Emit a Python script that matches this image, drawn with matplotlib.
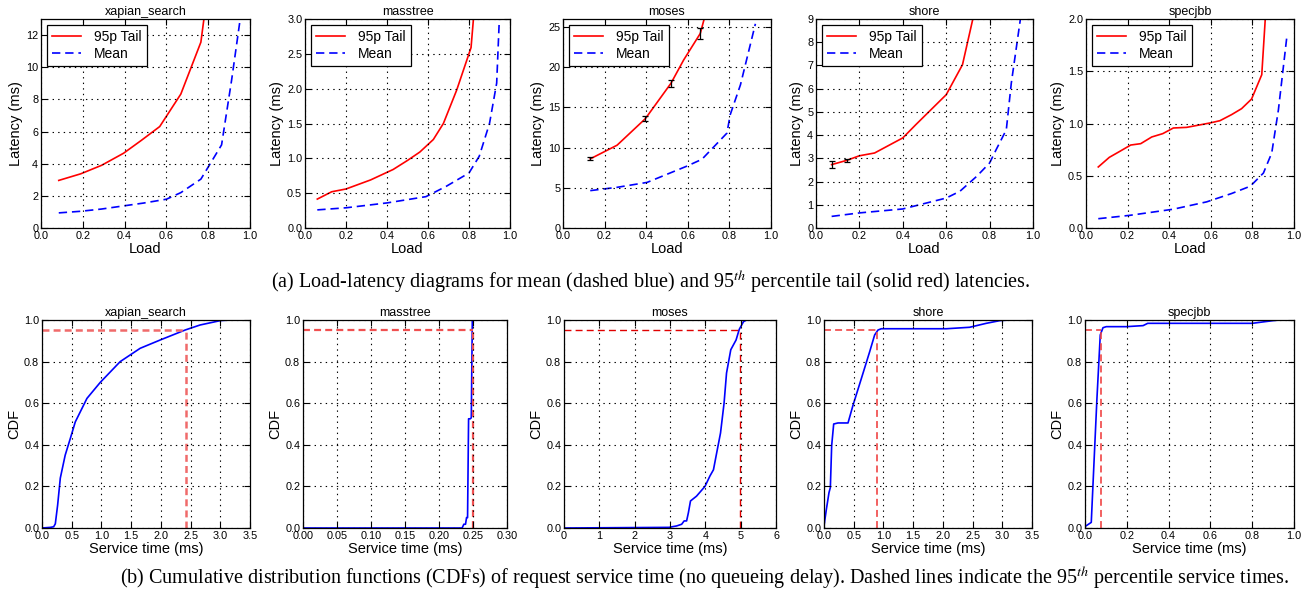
import matplotlib
matplotlib.use("Agg")
import matplotlib.pyplot as plt
import numpy as np

plt.rcParams['font.family'] = ['Liberation Sans', 'DejaVu Sans']
plt.rcParams['mathtext.fontset'] = 'stix'
plt.rcParams['lines.scale_dashes'] = False

# ---------------- Data: load-latency (top row) ----------------
apps = ["xapian_search", "masstree", "moses", "shore", "specjbb"]

xap_tail_load = [0.085, 0.19, 0.29, 0.395, 0.48, 0.568, 0.669, 0.765, 0.86]
xap_tail_lat = [2.96, 3.37, 3.9, 4.65, 5.45, 6.31, 8.33, 11.56, 21.0]
xap_mean_load = [0.085, 0.19, 0.29, 0.395, 0.49, 0.6, 0.669, 0.765, 0.864, 0.912, 0.952]
xap_mean_lat = [0.94, 1.04, 1.18, 1.375, 1.55, 1.79, 2.2, 3.04, 5.17, 9.2, 12.9]

mass_tail_load = [0.06, 0.13, 0.2, 0.32, 0.43, 0.5, 0.56, 0.626, 0.675, 0.74, 0.81, 0.85]
mass_tail_lat = [0.415, 0.52, 0.56, 0.69, 0.84, 0.97, 1.09, 1.27, 1.5, 1.98, 2.59, 4.0]
mass_mean_load = [0.06, 0.2, 0.4, 0.59, 0.69, 0.8, 0.85, 0.9, 0.935, 0.955]
mass_mean_lat = [0.26, 0.29, 0.36, 0.45, 0.6, 0.79, 1.03, 1.5, 2.08, 3.5]

mos_tail_load = [0.131, 0.26, 0.396, 0.519, 0.58, 0.66, 0.72]
mos_tail_lat = [8.6, 10.3, 13.6, 18.0, 20.9, 24.2, 30.0]
mos_err_load = [0.131, 0.396, 0.519, 0.66]
mos_err_lat = [8.6, 13.6, 18.0, 24.2]
mos_err = [0.2, 0.3, 0.4, 0.7]
mos_mean_load = [0.131, 0.26, 0.404, 0.596, 0.668, 0.788, 0.804, 0.853, 0.925]
mos_mean_lat = [4.65, 5.06, 5.67, 7.7, 8.55, 11.8, 14.1, 17.8, 25.4]

sho_tail_load = [0.072, 0.141, 0.2, 0.27, 0.4, 0.46, 0.6, 0.675, 0.73]
sho_tail_lat = [2.73, 2.91, 3.11, 3.23, 3.88, 4.45, 5.74, 7.03, 9.3]
sho_err_load = [0.072, 0.141]
sho_err_lat = [2.73, 2.91]
sho_err = [0.15, 0.07]
sho_mean_load = [0.072, 0.2, 0.4, 0.6, 0.663, 0.74, 0.8, 0.83, 0.877, 0.9, 0.945]
sho_mean_lat = [0.5, 0.65, 0.82, 1.29, 1.58, 2.22, 2.8, 3.37, 4.23, 6.24, 9.2]

spec_tail_load = [0.059, 0.112, 0.163, 0.215, 0.263, 0.316, 0.369, 0.42, 0.484,
                  0.596, 0.644, 0.7, 0.748, 0.796, 0.845, 0.865]
spec_tail_lat = [0.584, 0.676, 0.734, 0.794, 0.807, 0.871, 0.903, 0.957, 0.963,
                 1.005, 1.027, 1.085, 1.142, 1.234, 1.467, 2.1]
spec_mean_load = [0.059, 0.21, 0.42, 0.58, 0.7, 0.79, 0.853, 0.893, 0.925, 0.965]
spec_mean_lat = [0.089, 0.121, 0.18, 0.25, 0.33, 0.4, 0.526, 0.718, 1.13, 1.82]

top_ylims = [13, 3.0, 26, 9, 2.0]
top_yticks = [np.arange(0, 13, 2), np.arange(0, 3.01, 0.5), np.arange(0, 26, 5),
              np.arange(0, 10, 1), np.arange(0, 2.01, 0.5)]
top_yfmt = ["%d", "%.1f", "%d", "%d", "%.1f"]

# ---------------- Data: CDFs (bottom row) ----------------
xap_st = [0, 0.14, 0.196, 0.224, 0.263, 0.308, 0.39, 0.476, 0.56, 0.756, 0.98,
          1.316, 1.652, 1.99, 2.41, 2.66, 3.0, 3.16]
xap_cdf = [0, 0.003, 0.006, 0.02, 0.11, 0.24, 0.35, 0.43, 0.51, 0.623, 0.70,
           0.80, 0.864, 0.904, 0.952, 0.976, 0.997, 1.0]
xap_p95 = 2.43

mass_st = [0, 0.234, 0.2365, 0.239, 0.2405, 0.242, 0.2435, 0.246, 0.2475, 0.249, 0.265]
mass_cdf = [0, 0, 0.018, 0.018, 0.05, 0.05, 0.525, 0.525, 0.53, 1.0, 1.0]
mass_p95 = 0.25

mos_st = [0, 2.97, 3.19, 3.33, 3.4, 3.47, 3.52, 3.58, 3.75, 3.99, 4.13, 4.23,
          4.32, 4.43, 4.53, 4.6, 4.72, 4.87, 4.96, 5.08, 5.17, 5.72]
mos_cdf = [0, 0.003, 0.01, 0.018, 0.034, 0.034, 0.073, 0.13, 0.153, 0.2, 0.25, 0.28,
           0.36, 0.457, 0.6, 0.745, 0.857, 0.904, 0.955, 0.992, 1.0, 1.0]
mos_p95 = 4.98

sho_st = [0, 0.04, 0.084, 0.107, 0.129, 0.163, 0.235, 0.376, 0.404, 0.488, 0.628,
          0.768, 0.852, 0.909, 0.965, 2.06, 2.45, 2.73, 2.96, 3.12, 3.4]
sho_cdf = [0.01, 0.09, 0.17, 0.195, 0.396, 0.50, 0.505, 0.505, 0.505, 0.59, 0.718,
           0.847, 0.928, 0.952, 0.958, 0.958, 0.965, 0.984, 0.997, 1.0, 1.0]
sho_p95 = 0.89

spec_st = [0.006, 0.03, 0.041, 0.057, 0.073, 0.086, 0.102, 0.198, 0.278, 0.3,
           0.42, 0.8, 0.9, 0.93, 0.995]
spec_cdf = [0.011, 0.027, 0.27, 0.62, 0.928, 0.963, 0.968, 0.968, 0.973, 0.984,
            0.984, 0.984, 0.997, 1.0, 1.0]
spec_p95 = 0.075

bot_xlims = [3.5, 0.30, 6, 3.5, 1.0]
bot_xticks = [np.arange(0, 3.51, 0.5), np.arange(0, 0.301, 0.05), np.arange(0, 7, 1),
              np.arange(0, 3.51, 0.5), np.arange(0, 1.01, 0.2)]
bot_xfmt = ["%.1f", "%.2f", "%d", "%.1f", "%.1f"]

# ---------------- Figure ----------------
W, H = 1313, 597
fig = plt.figure(figsize=(W / 100, H / 100), dpi=100)

def px_axes(left, top, right, bottom):
    return fig.add_axes([left / W, 1 - bottom / H, (right - left) / W, (bottom - top) / H])

top_boxes = [(41, 19, 250, 228), (305, 19, 510, 228), (563, 19, 771, 228),
             (816, 19, 1033, 228), (1086, 19, 1294, 228)]
bot_boxes = [(42, 320, 250, 528), (303, 320, 507, 528), (564, 320, 776, 528),
             (824, 320, 1032, 528), (1085, 320, 1294, 528)]

def style(ax):
    ax.tick_params(direction='in', top=True, right=True, labelsize=7.8, length=4,
                   width=0.8, pad=2)
    ax.grid(True, color='black', linestyle=(0, (1, 3)), linewidth=0.8)
    ax.set_axisbelow(False)
    for s in ax.spines.values():
        s.set_linewidth(0.9)

top_data = [
    (xap_tail_load, xap_tail_lat, xap_mean_load, xap_mean_lat, None),
    (mass_tail_load, mass_tail_lat, mass_mean_load, mass_mean_lat, None),
    (mos_tail_load, mos_tail_lat, mos_mean_load, mos_mean_lat, (mos_err_load, mos_err_lat, mos_err)),
    (sho_tail_load, sho_tail_lat, sho_mean_load, sho_mean_lat, (sho_err_load, sho_err_lat, sho_err)),
    (spec_tail_load, spec_tail_lat, spec_mean_load, spec_mean_lat, None),
]

for i, (box, d) in enumerate(zip(top_boxes, top_data)):
    ax = px_axes(*box)
    tl, tv, ml, mv, err = d
    ax.plot(tl, tv, color='#ff0000', lw=1.2, label='95p Tail')
    ax.plot(ml, mv, color='#0000ff', lw=1.2, linestyle=(0, (6, 3.5)), label='Mean')
    if err is not None:
        ax.errorbar(err[0], err[1], yerr=err[2], fmt='none', ecolor='black',
                    elinewidth=0.9, capsize=2.5, capthick=0.9)
    ax.set_xlim(0, 1.0)
    ax.set_ylim(0, top_ylims[i])
    ax.set_xticks(np.arange(0, 1.01, 0.2))
    ax.set_xticklabels(["%.1f" % v for v in np.arange(0, 1.01, 0.2)])
    ax.set_yticks(top_yticks[i])
    ax.set_yticklabels([top_yfmt[i] % v for v in top_yticks[i]])
    ax.set_title(apps[i], fontsize=9, pad=3)
    ax.set_xlabel('Load', fontsize=10.5, labelpad=1)
    ax.set_ylabel('Latency (ms)', fontsize=10.5, labelpad=2)
    style(ax)
    leg = ax.legend(loc='upper left', fontsize=10, fancybox=False, framealpha=1,
                    edgecolor='black', handlelength=2.1, handletextpad=0.9,
                    borderpad=0.4, labelspacing=0.2, borderaxespad=0.4)
    leg.get_frame().set_linewidth(0.9)

bot_data = [
    (xap_st, xap_cdf, xap_p95, '#f06a6a', 1.8),
    (mass_st, mass_cdf, mass_p95, '#f05050', 1.6),
    (mos_st, mos_cdf, mos_p95, '#e00000', 1.0),
    (sho_st, sho_cdf, sho_p95, '#f04545', 1.2),
    (spec_st, spec_cdf, spec_p95, '#f04545', 1.2),
]

for i, (box, d) in enumerate(zip(bot_boxes, bot_data)):
    ax = px_axes(*box)
    st, cdf, p95, rc, rlw = d
    ax.plot(st, cdf, color='#0000ff', lw=1.2)
    ax.plot([0, p95], [0.95, 0.95], color=rc, lw=rlw, linestyle=(0, (5, 3)))
    ax.plot([p95, p95], [0, 0.95], color=rc, lw=rlw, linestyle=(0, (5, 3)))
    ax.set_xlim(0, bot_xlims[i])
    ax.set_ylim(0, 1.0)
    ax.set_xticks(bot_xticks[i])
    ax.set_xticklabels([bot_xfmt[i] % v for v in bot_xticks[i]])
    ax.set_yticks(np.arange(0, 1.01, 0.2))
    ax.set_yticklabels(["%.1f" % v for v in np.arange(0, 1.01, 0.2)])
    ax.set_title(apps[i], fontsize=9, pad=3)
    ax.set_xlabel('Service time (ms)', fontsize=10.5, labelpad=1)
    ax.set_ylabel('CDF', fontsize=10.5, labelpad=2)
    style(ax)

fig.text(651 / W, 1 - 282 / H,
         "(a) Load-latency diagrams for mean (dashed blue) and 95$^{th}$ percentile tail (solid red) latencies.",
         family='Liberation Serif', fontsize=14.5, ha='center', va='center')
fig.text(705 / W, 1 - 578 / H,
         "(b) Cumulative distribution functions (CDFs) of request service time (no queueing delay). "
         "Dashed lines indicate the 95$^{th}$ percentile service times.",
         family='Liberation Serif', fontsize=14.5, ha='center', va='center')

fig.savefig('out.png', dpi=100)
